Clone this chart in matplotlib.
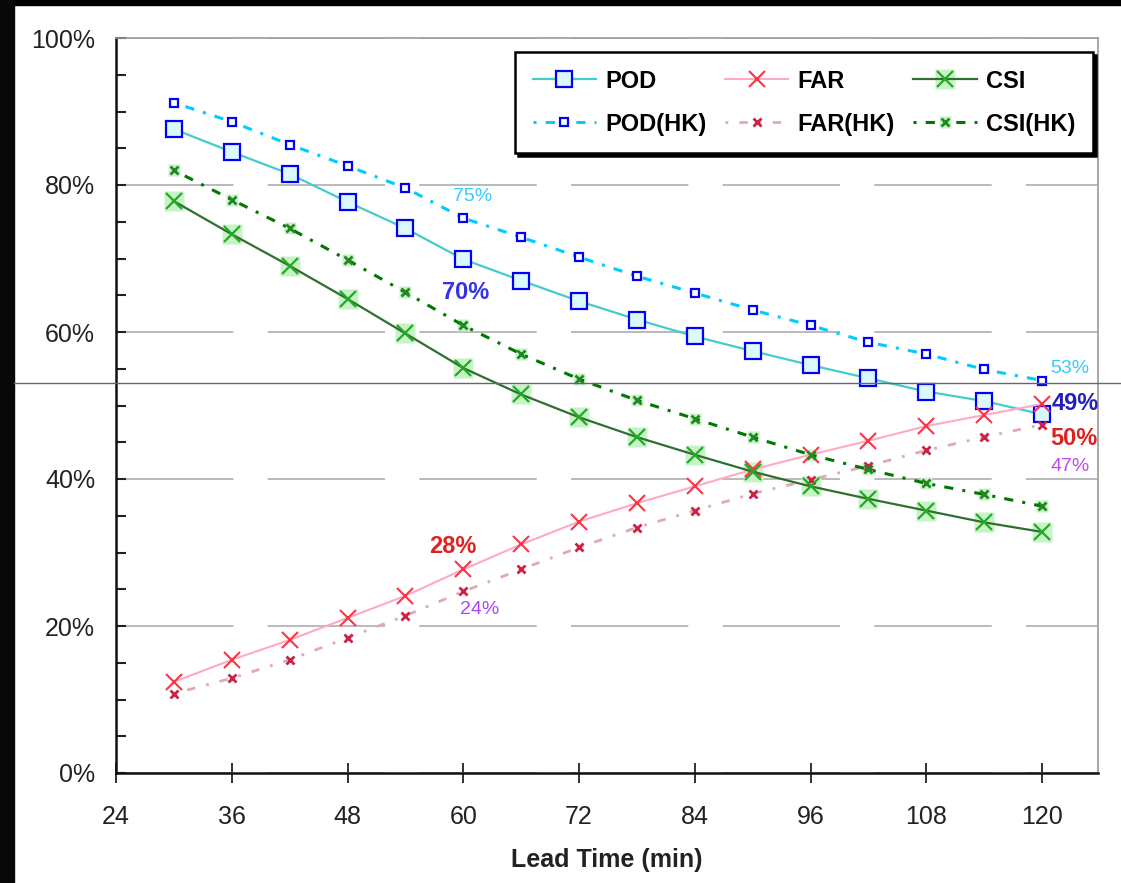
import matplotlib
matplotlib.use("Agg")
import matplotlib.pyplot as plt
from matplotlib.lines import Line2D
from matplotlib.patches import Rectangle
from matplotlib.legend_handler import HandlerTuple
from matplotlib.ticker import MultipleLocator, FuncFormatter

plt.rcParams['font.family'] = ['Liberation Sans Narrow', 'Liberation Sans', 'DejaVu Sans']

lead_time = [30, 36, 42, 48, 54, 60, 66, 72, 78, 84, 90, 96, 102, 108, 114, 120]
pod = [87.6, 84.5, 81.5, 77.7, 74.1, 69.9, 67.0, 64.2, 61.7, 59.4, 57.4, 55.5, 53.7, 51.9, 50.6, 48.8]
pod_hk = [91.2, 88.6, 85.5, 82.6, 79.6, 75.5, 72.9, 70.2, 67.6, 65.3, 63.0, 60.9, 58.6, 57.0, 54.9, 53.4]
far = [12.4, 15.4, 18.1, 21.1, 24.1, 27.7, 31.1, 34.2, 36.7, 39.0, 41.3, 43.3, 45.2, 47.2, 48.7, 50.2]
far_hk = [10.8, 12.9, 15.4, 18.4, 21.4, 24.7, 27.7, 30.7, 33.4, 35.7, 38.0, 39.9, 41.8, 43.9, 45.7, 47.4]
csi = [77.8, 73.3, 69.0, 64.5, 59.8, 55.1, 51.5, 48.4, 45.7, 43.3, 41.0, 39.0, 37.3, 35.7, 34.1, 32.8]
csi_hk = [82.0, 78.0, 74.1, 69.8, 65.4, 60.9, 57.0, 53.6, 50.7, 48.2, 45.7, 43.3, 41.3, 39.4, 37.9, 36.3]

# (text, x, y, color, bold, size)
notes = [
    ("75%", 61.0, 78.4, "#33ccff", False, 14),
    ("70%", 60.2, 65.4, "#3333ee", True, 17),
    ("53%", 122.9, 55.1, "#33ccff", False, 14),
    ("49%", 123.4, 50.3, "#2222bb", True, 17),
    ("50%", 123.3, 45.5, "#dd2222", True, 17),
    ("47%", 122.9, 41.7, "#cc44ee", False, 14),
    ("28%", 58.9, 30.8, "#dd2222", True, 17),
    ("24%", 61.7, 22.2, "#aa44ff", False, 14),
]

fig = plt.figure(figsize=(11.21, 8.83), dpi=100)
ax = fig.add_axes([116 / 1121, 1 - 773 / 883, 982 / 1121, 735 / 883])

# POD
l_pod, = ax.plot(lead_time, pod, color="#44cccc", lw=1.6, marker="s", ms=11,
                 mfc="#dcf8ff", mec="#0000ff", mew=1.6, zorder=4)
l_podhk, = ax.plot(lead_time, pod_hk, color="#00ccff", lw=2.2, ls=(0, (1, 3, 3, 3)),
                   marker="s", ms=6, mfc="white", mec="#0000ff", mew=1.6, zorder=4)
# FAR
l_far, = ax.plot(lead_time, far, color="#ffaac4", lw=1.5, marker="x", ms=11,
                 mec="#ff3344", mew=1.5, zorder=4)
l_farhk, = ax.plot(lead_time, far_hk, color="#e0a8b8", lw=2.0, ls=(0, (1, 4, 3, 4)),
                   marker="x", ms=6, mec="#cc2244", mew=2.0, zorder=4)
# CSI
bg_csi, = ax.plot(lead_time, csi, ls="none", marker="s", ms=15, mfc="#c8f2c8", mec="none", zorder=3)
l_csi, = ax.plot(lead_time, csi, color="#2f6f2f", lw=1.6, marker="x", ms=12,
                 mec="#22aa22", mew=1.6, zorder=4)
bg_csihk, = ax.plot(lead_time, csi_hk, ls="none", marker="s", ms=9, mfc="#c8f2c8", mec="none", zorder=3)
l_csihk, = ax.plot(lead_time, csi_hk, color="#007700", lw=2.2, ls=(0, (1, 3, 3, 3)),
                   marker="x", ms=6, mec="#228822", mew=2.0, zorder=4)

for txt, x, y, c, b, s in notes:
    ax.text(x, y, txt, color=c, fontsize=s, fontweight="bold" if b else "normal",
            ha="center", va="center", zorder=6)

ax.set_xlim(24, 125.8)
ax.set_ylim(0, 100)
ax.set_xticks(range(24, 121, 12))
ax.yaxis.set_major_locator(MultipleLocator(20))
ax.yaxis.set_minor_locator(MultipleLocator(5))
ax.yaxis.set_major_formatter(FuncFormatter(lambda v, p: "%d%%" % v))
ax.tick_params(axis="x", direction="inout", length=14, width=1.3, labelsize=18,
               pad=16, colors="#222222")
ax.tick_params(axis="y", which="both", direction="in", length=7, width=1.5,
               labelsize=18, pad=15, colors="#222222")
ax.yaxis.grid(True, color="#b4b4b4", lw=1.3, ls=(0, (65, 19)))
ax.set_axisbelow(True)
for side in ("left", "bottom"):
    ax.spines[side].set_color("#111111")
    ax.spines[side].set_linewidth(1.8)
for side in ("top", "right"):
    ax.spines[side].set_color("#999999")
    ax.spines[side].set_linewidth(1.2)
ax.set_xlabel("Lead Time (min)", fontsize=18, fontweight="bold", color="#222222", labelpad=14)

handles = [l_pod, l_podhk, l_far, l_farhk, (bg_csi, l_csi), (bg_csihk, l_csihk)]
labels = ["POD", "POD(HK)", "FAR", "FAR(HK)", "CSI", "CSI(HK)"]
leg = ax.legend(handles, labels, ncol=3, loc="upper right", bbox_to_anchor=(0.995, 0.981),
                borderaxespad=0, fancybox=False, edgecolor="black", framealpha=1,
                shadow={"color": "black", "alpha": 1}, prop={"weight": "bold", "size": 17},
                handlelength=2.7, columnspacing=0.75, handletextpad=0.4, labelspacing=0.85,
                borderpad=0.75, handler_map={tuple: HandlerTuple(ndivide=1)})
leg.get_frame().set_linewidth(1.8)
leg.set_zorder(10)

# screenshot borders and stray line
fig.patches.append(Rectangle((0, 1 - 5 / 883), 1, 5 / 883, transform=fig.transFigure,
                             color="black", zorder=0))
fig.patches.append(Rectangle((0, 0), 14 / 1121, 1, transform=fig.transFigure,
                             color="#080808", zorder=0))
fig.lines.append(Line2D([14 / 1121, 1], [1 - 383 / 883] * 2, transform=fig.transFigure,
                        color="#666666", lw=1.0, zorder=20))

fig.savefig("out.png", dpi=100)
